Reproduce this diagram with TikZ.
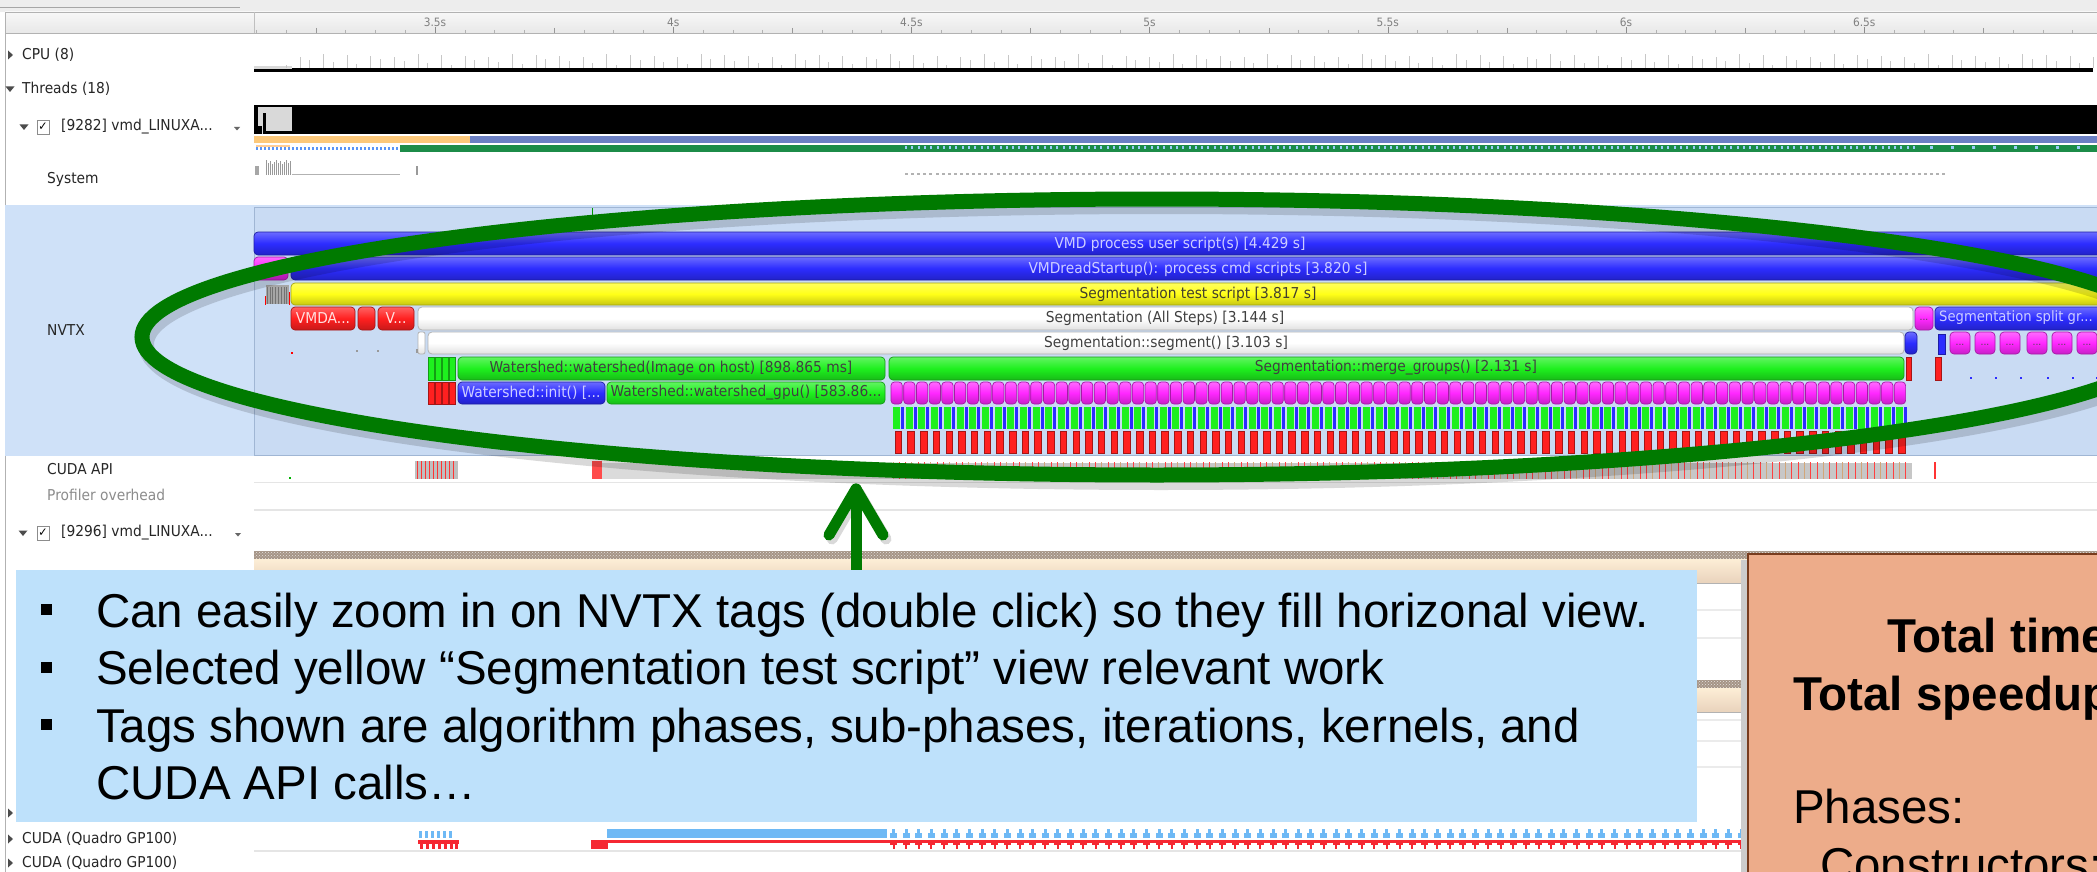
\documentclass[tikz,border=0pt]{standalone}
\usepackage{fontspec}
\setmainfont{Liberation Sans}
\newfontfamily\uifont{DejaVu Sans}[FakeStretch=0.92]
\usetikzlibrary{patterns}
\definecolor{nvbg}{RGB}{207,225,248}
\definecolor{nvpanel}{RGB}{201,219,243}
\definecolor{nvborder}{RGB}{160,182,212}
\definecolor{barblue}{RGB}{44,44,255}
\definecolor{baryel}{RGB}{255,255,24}
\definecolor{bargreen}{RGB}{30,240,30}
\definecolor{barred}{RGB}{255,32,32}
\definecolor{barmag}{RGB}{255,40,255}
\definecolor{boxblue}{RGB}{190,225,251}
\definecolor{boxorange}{RGB}{237,172,138}
\definecolor{boxorangeD}{RGB}{120,60,30}
\definecolor{ellgreen}{RGB}{0,122,0}
\definecolor{thrblue}{RGB}{108,128,196}
\definecolor{throrange}{RGB}{252,200,122}
\definecolor{thrgreen}{RGB}{28,140,72}
\definecolor{hatchc}{RGB}{165,148,134}
\definecolor{creamc}{RGB}{253,238,214}
\definecolor{cudablue}{RGB}{110,185,245}
\definecolor{cudared}{RGB}{245,40,50}
\definecolor{bluetxt}{RGB}{205,205,255}
\tikzset{
 pill/.style={rounded corners=4pt, draw=#1!65!black, line width=0.7pt, top color=#1!70!white, bottom color=#1!78!black, middle color=#1},
 stripebar/.style={draw=#1!65!black, line width=0.5pt, fill=#1},
 whitebar/.style={rounded corners=4pt, draw=black!30, line width=0.8pt, top color=white, bottom color=black!12, middle color=white},
 ui/.style={font=\uifont\fontsize{15}{15}\selectfont, inner sep=0pt, text=black!85, anchor=west},
 bartxt/.style={font=\uifont\fontsize{15}{15}\selectfont, inner sep=0pt},
 rulerlbl/.style={font=\uifont\fontsize{11.5}{11.5}\selectfont, inner sep=0pt, text=black!50},
 dotstxt/.style={font=\uifont\fontsize{10}{10}\selectfont, inner sep=0pt, text=black!70},
 slide/.style={font=\fontsize{47.5}{57}\selectfont, inner sep=0pt, anchor=base west},
}
\newcommand\trir[2]{\fill[black!70] (#1-2,#2-4.5) -- (#1+3,#2) -- (#1-2,#2+4.5) -- cycle;}
\newcommand\trid[2]{\fill[black!70] (#1-4.5,#2-2.5) -- (#1+4.5,#2-2.5) -- (#1,#2+3) -- cycle;}
\newcommand\chkbox[2]{\draw[black!45, fill=white] (#1,#2-7) rectangle (#1+12,#2+7); \node[font=\uifont\fontsize{12}{12}\selectfont, inner sep=0pt] at (#1+6,#2) {✓};}
\begin{document}
\begin{tikzpicture}[x=1pt,y=-1pt]
\useasboundingbox (0,0) rectangle (2097,872);
\clip (0,0) rectangle (2097,872);
\fill[white] (0,0) rectangle (2097,872);
% top strip and ruler
\fill[black!7] (0,0) rectangle (2097,12);
\draw[black!35] (0,7.5) -- (240,7.5);
\shade[top color=black!3, bottom color=black!9] (5,12) rectangle (2097,33);
\draw[black!30] (5,12) -- (2097,12);
\draw[black!30] (5,33) -- (2097,33);
\draw[black!30] (5,12) -- (5,872);
\draw[black!25] (254,12) -- (254,33);
\foreach \k in {-6,...,56}{
  \pgfmathsetmacro\xx{435+\k*29.775}
  \pgfmathtruncatemacro\m{mod(\k+64,8)}
  \pgfmathtruncatemacro\q{mod(\k+64,4)}
  \ifnum\m=0 \draw[black!45] (\xx,27)--(\xx,33); \else \ifnum\q=0 \draw[black!40] (\xx,28)--(\xx,33); \else \draw[black!30] (\xx,30)--(\xx,33);\fi\fi
}
\foreach \t [count=\c from 0] in {3.5s,4s,4.5s,5s,5.5s,6s,6.5s}
  \node[rulerlbl] (tk\c) at ({435+\c*238.2},22) {\t};
% left labels
\trir{10}{55}
\node[ui] (cpu) at (22,55) {CPU (8)};
\trid{10}{89}
\node[ui] (thr) at (22,89) {Threads (18)};
\trid{24}{127}
\chkbox{37}{127}
\node[ui] (t1) at (61,127) {[9282] vmd\_LINUXA...};
\fill[black!60] (234,127) -- (240,127) -- (237,130.5) -- cycle;
\node[ui] (sys) at (47,179) {System};
% CPU graph
\fill[black] (292,68) rectangle (2093,72);
\fill[black] (254,69.5) rectangle (292,72);
\fill[black!15] (254,66) rectangle (292,69.5);
\foreach \i in {0,...,76}{
  \pgfmathsetmacro\xx{300+\i*23.6}
  \pgfmathsetmacro\hh{11+mod(\i*7,4)}
  \draw[black!22, line width=1] (\xx,68) -- (\xx,68-\hh);
  \draw[black!22, line width=1] (\xx-14,68) -- (\xx-14,{68-3-mod(\i*5,7)});
}
% thread graph
\fill[black] (254,105) rectangle (2097,134);
\fill[black!15] (258,107) rectangle (292,134);
\fill[black] (263,113) rectangle (266,134);
\fill[black] (254,126) rectangle (262,134);
\fill[black] (266,131) rectangle (292,134);
\fill[throrange] (254,136) rectangle (470,143);
\fill[thrblue] (470,136) rectangle (2097,143);
\fill[white] (254,145) rectangle (400,152);
\foreach \i in {0,...,35}{\fill[cudablue!80!blue] ({256+\i*4},147) rectangle ({258+\i*4},150);}
\fill[creamc!70!orange] (256,145) rectangle (290,147);
\fill[thrgreen] (400,145) rectangle (2097,152);
\foreach \i in {0,...,160}{\fill[cudablue!70!white] ({905+\i*6.3},146) rectangle ({907+\i*6.3},149);}
\foreach \i in {0,...,7}{\fill[cudablue!70!white] ({1930+\i*21},146) rectangle ({1932.5+\i*21},149);}
% system graph
\foreach \i in {0,...,12}{\fill[black!40] ({266+\i*2},{160+mod(\i*3,5)}) rectangle ({267.2+\i*2},175);}
\fill[black!35] (255,166) rectangle (259,175);
\draw[black!30] (292,174.5) -- (400,174.5);
\fill[black!40] (416,166) rectangle (418,175);
\foreach \i in {0,...,170}{\fill[black!30] ({905+\i*6.1},173.5) rectangle ({908+\i*6.1},175);}
% NVTX panel
\fill[nvbg] (5,205) rectangle (2097,456);
\fill[nvpanel] (254,207) rectangle (2097,455);
\draw[nvborder] (254,207) rectangle (2100,455);
\draw[green!60!black, line width=1] (592,208) -- (592,229);
\node[ui] (nvtx) at (47,330) {NVTX};
% row 1
\path[pill=barblue] (254,232) rectangle (2110,255);
\node[bartxt, text=bluetxt] (b1) at (1180,244) {VMD process user script(s) [4.429 s]};
% row 2
\path[pill=barmag] (254,257) rectangle (288,280);
\path[pill=barblue] (291,257) rectangle (2110,280);
\node[bartxt, text=bluetxt] (b2) at (1198,269) {VMDreadStartup(): process cmd scripts [3.820 s]};
% row 3
\fill[black!35] (266,285) rectangle (289,304);
\foreach \i in {0,...,7}{\draw[black!55] ({267+\i*2.8},287) -- ({267+\i*2.8},304);}
\draw[red, line width=1] (265,296) -- (265,305);
\draw[red, line width=1] (289,292) -- (289,305);
\path[pill=baryel] (291,283) rectangle (2110,305);
\node[bartxt, text=black!70!olive] (b3) at (1198,294) {Segmentation test script [3.817 s]};
% row 4
\path[pill=barred] (291,307) rectangle (355,330);
\node[bartxt, text=red!12!white] (b4a) at (323,318) {VMDA...};
\path[pill=barred] (358,307) rectangle (375,330);
\path[pill=barred] (378,307) rectangle (414,330);
\node[bartxt, text=red!12!white] (b4b) at (396,318) {V...};
\path[whitebar] (418,307) rectangle (1913,330);
\node[bartxt, text=black!75] (b4c) at (1165,318) {Segmentation (All Steps) [3.144 s]};
\path[pill=barmag] (1915,307) rectangle (1933,330);
\node[dotstxt] (b4d) at (1924,320) {...};
\path[pill=barblue] (1935,307) rectangle (2110,330);
\node[bartxt, font=\uifont\fontsize{14.3}{14.3}\selectfont, text=bluetxt, anchor=west] (b4e) at (1939,318) {Segmentation split gr...};
% row 5
\path[whitebar, rounded corners=2pt] (418,332) rectangle (425,354);
\path[whitebar] (428,332) rectangle (1904,354);
\node[bartxt, text=black!75] (b5) at (1166,343) {Segmentation::segment() [3.103 s]};
\path[pill=barblue] (1905,332) rectangle (1917,354);
\path[stripebar=barblue] (1938,334) rectangle (1945,354);
\foreach \xx in {1950,1975,2000,2027,2052,2077}{
  \path[pill=barmag] (\xx,332) rectangle (\xx+20,354);
  \node[dotstxt] at (\xx+10,345) {...};
}
\fill[red] (291,352) rectangle (293,354);
\fill[black!40] (356,350) rectangle (358,352);
\fill[black!40] (377,350) rectangle (379,352);
\fill[black!40] (416,349) rectangle (418,353);
% row 6
\foreach \xx in {428,435,442,449}{\path[stripebar=bargreen] (\xx,357) rectangle (\xx+6.5,380);}
\path[pill=bargreen] (458,357) rectangle (885,380);
\node[bartxt, text=black!75] (b6a) at (671,368) {Watershed::watershed(Image on host) [898.865 ms]};
\path[pill=bargreen] (889,357) rectangle (1904,380);
\node[bartxt, text=black!75] (b6b) at (1396,368) {Segmentation::merge\_groups() [2.131 s]};
\path[stripebar=barred] (1906,357) rectangle (1911,380);
\path[stripebar=barred] (1935,357) rectangle (1941,380);
\foreach \xx in {1970,1995,2020,2047,2072,2096}{\fill[barblue] (\xx,377) rectangle (\xx+2,379);}
% row 7
\foreach \xx in {428,435,442,449}{\path[stripebar=barred] (\xx,382) rectangle (\xx+6.5,404);}
\path[pill=barblue] (458,382) rectangle (605,404);
\node[bartxt, text=bluetxt] (b7a) at (531,393) {Watershed::init() [...};
\path[pill=bargreen] (607,382) rectangle (885,404);
\node[bartxt, text=black!75] (b7b) at (746,393) {Watershed::watershed\_gpu() [583.86...};
\foreach \i in {0,...,79}{\path[pill=barmag, rounded corners=3.5pt] ({891+\i*12.7},382) rectangle ({891+\i*12.7+11.3},404);}
% row 8
\foreach \i in {0,...,79}{
  \fill[bargreen] ({893+\i*12.7},407) rectangle ({893+\i*12.7+7},429);
  \fill[barblue] ({893+\i*12.7+8},407) rectangle ({893+\i*12.7+11},429);
}
% row 9
\foreach \i in {0,...,79}{\path[stripebar=barred] ({895+\i*12.7},431) rectangle ({895+\i*12.7+6.5},453);}
% CUDA API row
\node[ui] (capi) at (47,469) {CUDA API};
\fill[black!25] (415,461) rectangle (458,479);
\foreach \xx in {417,421,...,455}{\draw[red!80, line width=0.8] (\xx,461) -- (\xx,479);}
\fill[black!14] (592,463) rectangle (893,479);
\fill[black!22] (893,463) rectangle (1912,479);
\fill[red!70] (592,461) rectangle (602,479);
\foreach \i in {0,...,160}{
  \pgfmathtruncatemacro\m{mod(\i,3)}
  \ifnum\m=0 \draw[brown!70, line width=1] ({893+\i*6.33},462) -- ++(0,17); \else \draw[red!75, line width=0.8] ({893+\i*6.33},462) -- ++(0,17); \fi
}
\draw[red!80, line width=1.2] (1935,462) -- (1935,479);
\fill[green!70!black] (289,477) rectangle (291,479);
\draw[black!10, line width=1.5] (254,482.5) -- (2097,482.5);
\node[ui, text=black!45] (prof) at (47,495) {Profiler overhead};
\draw[black!10, line width=1.5] (254,510) -- (2097,510);
% second thread
\trid{23}{533}
\chkbox{37}{533}
\node[ui] (t2) at (61,533) {[9296] vmd\_LINUXA...};
\fill[black!60] (235,533) -- (241,533) -- (238,536.5) -- cycle;
\foreach \yy in {551,680}{
  \fill[hatchc] (254,\yy) rectangle (2097,\yy+8);
  \fill[pattern=crosshatch dots, pattern color=white!75!hatchc] (254,\yy) rectangle (2097,\yy+8);
  \shade[top color=creamc, bottom color=brown!35!white] (254,\yy+8) rectangle (2097,\yy+32);
  \draw[black!30] (254,\yy+32) -- (2097,\yy+32);
}
\foreach \yy in {610,638,720,741,767}{\draw[black!8, line width=1.5] (254,\yy) -- (2097,\yy);}
% ellipse and arrow
\draw[black, opacity=.15, line width=16] (1161,344) ellipse [x radius=1015, y radius=138];
\draw[ellgreen, line width=15] (1157,337) ellipse [x radius=1015, y radius=138];
\coordinate (arrB) at (856,578);
\coordinate (arrT) at (856,489);
\coordinate (arrL) at (829,535);
\coordinate (arrR) at (883,535);
\draw[black, opacity=.15, line width=11, line cap=round, line join=round] ([shift={(3,4)}]arrL) -- ([shift={(3,4)}]arrT) -- ([shift={(3,4)}]arrR);
\draw[ellgreen, line width=11, line cap=round, line join=round] (arrB) -- (arrT);
\draw[ellgreen, line width=11, line cap=round, line join=round] (arrL) -- (arrT) -- (arrR);
% bottom CUDA rows
\trir{10}{813}
\trir{10}{839}
\node[ui] (gpu1) at (22,839) {CUDA (Quadro GP100)};
\trir{10}{863}
\node[ui] (gpu2) at (22,863) {CUDA (Quadro GP100)};
\foreach \xx in {419,425,431,437,443,449}{\fill[cudablue] (\xx,831) rectangle (\xx+3,838);}
\fill[cudared] (418,840) rectangle (459,844);
\foreach \xx in {420,426,432,438,444,450,455}{\fill[cudared] (\xx,844) rectangle (\xx+3,849);}
\fill[cudablue] (607,829) rectangle (887,838);
\fill[cudared] (591,840) rectangle (1760,843);
\fill[cudared] (591,843) rectangle (608,849);
\foreach \i in {0,...,68}{
  \fill[cudablue] ({890+\i*12.65},833) rectangle ({897+\i*12.65},838);
  \fill[cudablue] ({892+\i*12.65},829) rectangle ({895+\i*12.65},833);
  \fill[cudared] ({890+\i*12.65},843) rectangle ({897+\i*12.65},845);
  \fill[cudared] ({892.5+\i*12.65},845) rectangle ({894.5+\i*12.65},849);
}
\draw[black!10, line width=1.5] (254,851) -- (2097,851);
% blue text box
\fill[boxblue] (16,570) rectangle (1697,822);
\foreach \yy in {627,684.5,742}{\fill[black] (41,\yy-23) rectangle (52,\yy-12);}
\node[slide] (l1) at (96,627) {Can easily zoom in on NVTX tags (double click) so they fill horizonal view.};
\node[slide] (l2) at (96,684.5) {Selected yellow “Segmentation test script” view relevant work};
\node[slide] (l3) at (96,742) {Tags shown are algorithm phases, sub-phases, iterations, kernels, and};
\node[slide] (l4) at (96,799.5) {CUDA API calls…};
% orange box
\fill[black!20] (1741,560) rectangle (1748,872);
\draw[boxorangeD, line width=2, fill=boxorange] (1748,554) rectangle (2120,900);
\node[slide] (o1) at (1887,652) {\bfseries Total time};
\node[slide] (o2) at (1793,710) {\bfseries Total speedup};
\node[slide] (o3) at (1793,823) {Phases:};
\node[slide] (o4) at (1820,881) {Constructors:};
\end{tikzpicture}
\end{document}
